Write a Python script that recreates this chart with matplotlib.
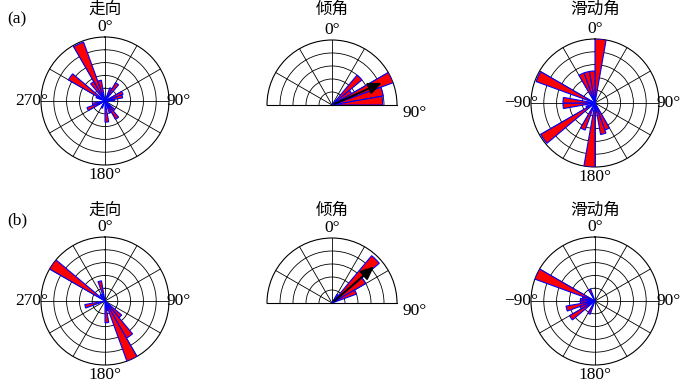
import numpy as np
import matplotlib
matplotlib.use('Agg')
import matplotlib.pyplot as plt

plt.rcParams['font.family'] = ['Liberation Serif']

W, H = 700, 389

# bin start angles (deg, 10 deg bins) and normalized lengths
strike_a_deg = [300, 290, 320, 330, 340, 20, 30, 60, 70, 80, 130, 140, 150, 170, 200, 240, 250]
strike_a_r = [0.66, 0.15, 0.35, 0.98, 0.33, 0.22, 0.33, 0.30, 0.28, 0.15, 0.20, 0.33, 0.20, 0.33, 0.12, 0.30, 0.20]

dip_a_deg = [40, 50, 60, 70, 80]
dip_a_r = [0.60, 0.35, 1.00, 0.80, 0.78]
dip_a_arrow = (66, 0.88)

rake_a_deg = [0, -30, -20, -10, -70, -100, -90, -130, -120, -160, -180, 150, 160]
rake_a_r = [1.00, 0.50, 0.50, 0.50, 0.98, 0.50, 0.50, 0.98, 0.15, 0.45, 1.00, 0.45, 0.50]

strike_b_deg = [300, 320, 340, 250, 130, 140, 150, 160, 170]
strike_b_r = [1.00, 0.12, 0.32, 0.32, 0.34, 0.67, 1.00, 0.15, 0.34]

dip_b_deg = [30, 40, 50, 60]
dip_b_r = [0.15, 0.95, 0.60, 0.40]
dip_b_arrow = (49, 0.90)

rake_b_deg = [-70, -90, -100, -110, -130, -120, -30, -160, -80]
rake_b_r = [1.00, 0.23, 0.23, 0.46, 0.46, 0.25, 0.20, 0.22, 0.20]

full_labels = ['0°', '', '', '90°', '', '', '180°', '', '', '270°', '', '']
rake_labels = ['0°', '', '', '90°', '', '', '180°', '', '', '−90°', '', '']

fig = plt.figure(figsize=(7, 3.89), dpi=100)


def make_polar(cx, cy, R, half=False):
    if half:
        # square box; the half disc sits centred in it
        rect = [(cx - R) / W, (H - cy - R / 2) / H, 2 * R / W, 2 * R / H]
    else:
        rect = [(cx - R) / W, (H - cy - R) / H, 2 * R / W, 2 * R / H]
    ax = fig.add_axes(rect, projection='polar')
    ax.set_theta_zero_location('N')
    ax.set_theta_direction(-1)
    if half:
        ax.set_thetamin(-90)
        ax.set_thetamax(90)
    ax.set_ylim(0, 1)
    ax.set_rgrids([0.2, 0.4, 0.6, 0.8], labels=[])
    ax.grid(True, color='black', lw=0.6)
    ax.spines['polar'].set_linewidth(0.8)
    ax.tick_params(labelsize=12.5, pad=-3.5)
    return ax


def draw_bars(ax, deg, r):
    ax.bar(np.deg2rad(deg), r, width=np.deg2rad(10), align='edge',
           color='red', edgecolor='blue', lw=0.8, zorder=3)


def draw_arrow(ax, arrow):
    ax.annotate('', xy=(np.deg2rad(arrow[0]), arrow[1]), xytext=(0, 0),
                arrowprops=dict(arrowstyle='-|>,head_length=0.8,head_width=0.35',
                                color='black', lw=1.4), zorder=4)


rows = [
    (101, 105, 103, strike_a_deg, strike_a_r, dip_a_deg, dip_a_r, dip_a_arrow, rake_a_deg, rake_a_r, 9, '(a)'),
    (301, 303, 301, strike_b_deg, strike_b_r, dip_b_deg, dip_b_r, dip_b_arrow, rake_b_deg, rake_b_r, 210, '(b)'),
]

for (cy_s, cy_d, cy_r, s_deg, s_r, d_deg, d_r, d_arrow, r_deg, r_r, ty, tag) in rows:
    ax = make_polar(105, cy_s, 64)
    ax.set_thetagrids(np.arange(0, 360, 30), labels=full_labels)
    draw_bars(ax, s_deg, s_r)

    ax = make_polar(332, cy_d, 65, half=True)
    ax.set_thetagrids([-90, -60, -30, 0, 30, 60, 90], labels=['', '', '', '0°', '', '', ''])
    ax.text(np.deg2rad(90), 1.09, '90°', ha='left', va='top', fontsize=12.5, clip_on=False)
    draw_bars(ax, d_deg, d_r)
    draw_arrow(ax, d_arrow)

    ax = make_polar(595, cy_r, 64)
    ax.set_thetagrids(np.arange(0, 360, 30), labels=rake_labels)
    draw_bars(ax, r_deg, r_r)

    for x, t in [(105, '走向'), (332, '倾角'), (595, '滑动角')]:
        fig.text(x / W, 1 - ty / H, t, ha='center', va='center', fontsize=12,
                 family=['Noto Sans CJK SC'])
    fig.text(17 / W, 1 - (ty + 10) / H, tag, ha='center', va='center', fontsize=12.5)

fig.savefig('out.png', dpi=100)
